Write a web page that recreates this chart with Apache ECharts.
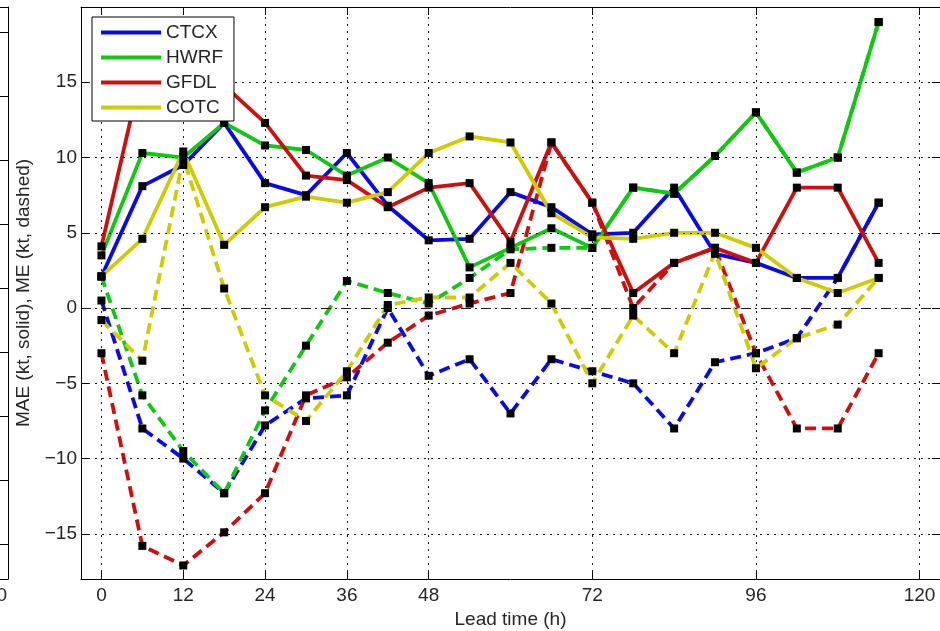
<!DOCTYPE html>
<html>
<head>
<meta charset="utf-8">
<script src="https://cdn.jsdelivr.net/npm/echarts@6/dist/echarts.min.js"></script>
<style>
  html, body { margin: 0; padding: 0; background: #fff; }
  #chart { width: 940px; height: 631px; }
</style>
</head>
<body>
<div id="chart"></div>
<script>
// Forecast lead times (h)
const leadTimes = [0, 6, 12, 18, 24, 30, 36, 42, 48, 54, 60, 66, 72, 78, 84, 90, 96, 102, 108, 114];

// Axis ticks
const xTicks = [0, 12, 24, 36, 48, 72, 96, 120];
const yTicks = [-15, -10, -5, 0, 5, 10, 15];
// Right-edge ticks of the neighbouring panel
const sideTicks = [0, 1, 2, 3, 4, 5, 6, 7, 8];

const models = ['CTCX', 'HWRF', 'GFDL', 'COTC'];
const modelColors = ['#0a0ae6', '#10c810', '#cc1010', '#cccc00'];

// Mean absolute error (kt)
const maeCTCX = [2.1, 8.1, 9.5, 12.3, 8.3, 7.5, 10.3, 6.8, 4.5, 4.6, 7.7, 6.7, 4.9, 5.0, 8.0, 3.6, 3.0, 2.0, 2.0, 7.0];
const maeHWRF = [3.5, 10.3, 10.0, 12.3, 10.8, 10.5, 8.8, 10.0, 8.3, 2.7, 4.0, 5.3, 4.0, 8.0, 7.6, 10.1, 13.0, 9.0, 10.0, 19.0];
const maeGFDL = [4.1, 15.9, 16.8, 14.8, 12.3, 8.8, 8.5, 6.7, 8.0, 8.3, 4.4, 11.0, 7.0, 1.0, 3.0, 4.0, 3.0, 8.0, 8.0, 3.0];
const maeCOTC = [2.1, 4.6, 10.4, 4.2, 6.7, 7.4, 7.0, 7.7, 10.3, 11.4, 11.0, 6.3, 4.7, 4.6, 5.0, 5.0, 4.0, 2.0, 1.0, 2.0];

// Mean error (kt)
const meCTCX = [0.5, -8.0, -10.0, -12.3, -7.8, -6.0, -5.8, 0.0, -4.5, -3.4, -7.0, -3.4, -4.2, -5.0, -8.0, -3.6, -3.0, -2.0, 2.0, 7.0];
const meHWRF = [2.1, -5.8, -9.5, -12.3, -6.8, -2.5, 1.8, 1.0, 0.3, 2.0, 3.9, 4.0, 4.0, 8.0, 7.6, 10.1, 13.0, 9.0, 10.0, 19.0];
const meGFDL = [-3.0, -15.8, -17.1, -14.9, -12.3, -5.8, -4.6, -2.3, -0.5, 0.3, 1.0, 11.0, 7.0, 0.0, 3.0, 4.0, -3.0, -8.0, -8.0, -3.0];
const meCOTC = [-0.8, -3.5, 10.0, 1.3, -5.8, -7.5, -4.2, 0.2, 0.7, 0.7, 3.0, 0.3, -5.0, -0.5, -3.0, 3.7, -4.0, -2.0, -1.1, 2.0];

const maeSets = [maeCTCX, maeHWRF, maeGFDL, maeCOTC];
const meSets = [meCTCX, meHWRF, meGFDL, meCOTC];

const FONT = '"Liberation Sans", Arial, Helvetica, sans-serif';
const TEXT = '#262626';
const minus = v => String(v).replace('-', '\u2212');

function pairs(values) {
  return leadTimes.map((t, i) => [t, values[i]]);
}

function lineSeries(name, values, color, dashed) {
  return {
    name: name,
    type: 'line',
    xAxisIndex: 0,
    yAxisIndex: 0,
    data: pairs(values),
    symbol: 'rect',
    symbolSize: 8,
    showSymbol: true,
    itemStyle: { color: '#000' },
    lineStyle: { color: color, width: 3.8, type: dashed ? [11, 6] : 'solid', cap: 'butt' },
    emphasis: { disabled: true },
    z: dashed ? 3 : 4
  };
}

const series = [];

// Dotted grid plus the dash-dot zero reference line
series.push({
  name: 'grid',
  type: 'line',
  xAxisIndex: 0,
  yAxisIndex: 0,
  data: [],
  z: 1,
  silent: true,
  markLine: {
    silent: true,
    symbol: 'none',
    animation: false,
    label: { show: false },
    lineStyle: { color: '#1a1a1a', width: 1, type: [2, 5] },
    data: xTicks.map(v => ({ xAxis: v }))
      .concat(yTicks.filter(v => v !== 0).map(v => ({ yAxis: v })))
      .concat([{ yAxis: 0, lineStyle: { type: [10, 4, 2, 4], color: '#1a1a1a', width: 1 } }])
  }
});

models.forEach((m, i) => {
  series.push(lineSeries(m + ' ME', meSets[i], modelColors[i], true));
});
models.forEach((m, i) => {
  series.push(lineSeries(m, maeSets[i], modelColors[i], false));
});

const axisLine = { show: true, onZero: false, lineStyle: { color: '#000', width: 1 } };

const option = {
  animation: false,
  backgroundColor: '#fff',
  textStyle: { fontFamily: FONT },
  grid: [
    { left: 81, top: 7, width: 859, height: 572, containLabel: false, outerBoundsMode: 'none' },
    { left: -292, top: 7, width: 300, height: 572, containLabel: false, outerBoundsMode: 'none' }
  ],
  legend: {
    orient: 'vertical',
    left: 92,
    top: 17,
    z: 20,
    itemWidth: 60,
    itemHeight: 4,
    itemGap: 6,
    padding: [6, 11, 4, 9],
    backgroundColor: '#fff',
    borderColor: '#000',
    borderWidth: 1,
    borderRadius: 0,
    selectedMode: false,
    textStyle: { fontFamily: FONT, fontSize: 19, lineHeight: 19, color: TEXT },
    data: models.map((m, i) => ({ name: m, icon: 'rect', itemStyle: { color: modelColors[i] } }))
  },
  xAxis: [
    {
      type: 'value', gridIndex: 0, position: 'bottom', min: -3, max: 123,
      axisLine: axisLine,
      axisTick: { show: true, inside: true, length: 8, customValues: xTicks, lineStyle: { color: '#000' } },
      axisLabel: { show: true, customValues: xTicks, margin: 7, fontSize: 19, color: TEXT, fontFamily: FONT },
      splitLine: { show: false },
      name: 'Lead time (h)', nameLocation: 'middle', nameGap: 30,
      nameTextStyle: { fontSize: 19, color: TEXT, fontFamily: FONT }
    },
    {
      type: 'value', gridIndex: 0, position: 'top', min: -3, max: 123,
      axisLine: axisLine,
      axisTick: { show: true, inside: true, length: 8, customValues: xTicks, lineStyle: { color: '#000' } },
      axisLabel: { show: false },
      splitLine: { show: false }
    },
    {
      type: 'value', gridIndex: 1, position: 'bottom', min: 0, max: 10.4,
      axisLine: axisLine,
      axisTick: { show: false },
      axisLabel: { show: true, customValues: [10], margin: 7, fontSize: 19, color: TEXT, fontFamily: FONT, hideOverlap: false },
      splitLine: { show: false }
    },
    {
      type: 'value', gridIndex: 1, position: 'top', min: 0, max: 10.4,
      axisLine: axisLine,
      axisTick: { show: false },
      axisLabel: { show: false },
      splitLine: { show: false }
    }
  ],
  yAxis: [
    {
      type: 'value', gridIndex: 0, position: 'left', min: -18, max: 20,
      axisLine: axisLine,
      axisTick: { show: true, inside: true, length: 8, customValues: yTicks, lineStyle: { color: '#000' } },
      axisLabel: { show: true, customValues: yTicks, margin: 4, fontSize: 19, color: TEXT, fontFamily: FONT, formatter: minus },
      splitLine: { show: false },
      name: 'MAE (kt, solid), ME (kt, dashed)', nameLocation: 'middle', nameGap: 48, nameRotate: 90,
      nameTextStyle: { fontSize: 19, color: TEXT, fontFamily: FONT }
    },
    {
      type: 'value', gridIndex: 0, position: 'right', min: -18, max: 20,
      axisLine: axisLine,
      axisTick: { show: true, inside: true, length: 8, customValues: yTicks, lineStyle: { color: '#000' } },
      axisLabel: { show: false },
      splitLine: { show: false }
    },
    {
      type: 'value', gridIndex: 1, position: 'right', min: -0.547, max: 8.39,
      axisLine: axisLine,
      axisTick: { show: true, inside: true, length: 8, customValues: sideTicks, lineStyle: { color: '#000' } },
      axisLabel: { show: false },
      splitLine: { show: false }
    }
  ],
  series: series
};

const chart = echarts.init(document.getElementById('chart'), null, { renderer: 'canvas' });
chart.setOption(option);
</script>
</body>
</html>
